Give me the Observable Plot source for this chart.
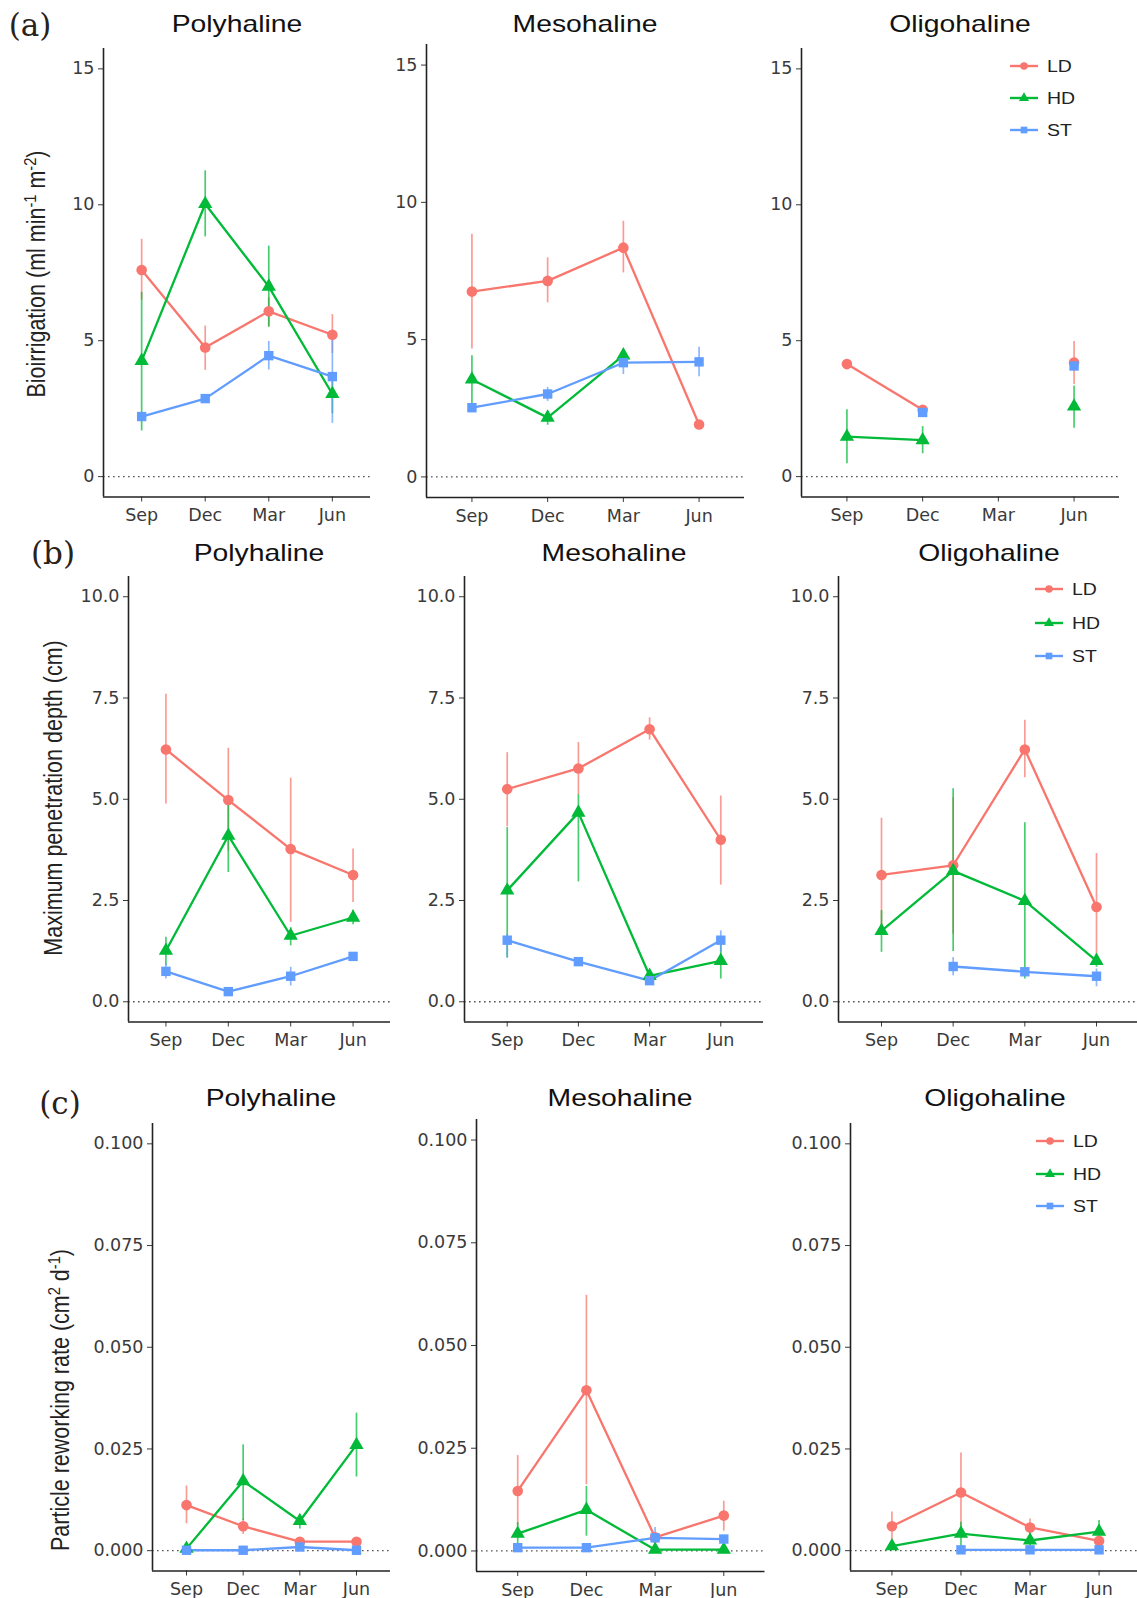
<!DOCTYPE html>
<html><head><meta charset="utf-8">
<script src="https://cdn.jsdelivr.net/npm/d3@7"></script>
<script src="https://cdn.jsdelivr.net/npm/@observablehq/plot@0.6"></script>
<style>
body{margin:0;background:#fff;}
#fig{position:relative;width:1137px;height:1598px;overflow:hidden;background:#fff;font-family:"Liberation Sans",Arial,sans-serif;}
.t{position:absolute;white-space:nowrap;line-height:1;}
.t sup{font-size:68%;vertical-align:0.55em;line-height:0;}
svg.panel{position:absolute;}
</style></head><body><div id="fig"></div>
<script>
// ---------- categories ----------
const months = ["Sep", "Dec", "Mar", "Jun"];
const treatments = ["LD", "HD", "ST"];
const sites = ["Polyhaline", "Mesohaline", "Oligohaline"];
const panelLetters = ["(a)", "(b)", "(c)"];
const colors = ["#F8766D", "#00BA38", "#619CFF"];
const symbols = ["circle", "triangle", "square"];

// ---------- (a) Bioirrigation, [site][month] ----------
const bioLD   = [[7.6, 4.75, 6.08, 5.22], [6.75, 7.14, 8.35, 1.91], [4.14, 2.46, null, 4.2]];
const bioLDlo = [[6.49, 3.91, 5.5, 4.53], [4.66, 6.34, 7.43, null], [null, null, null, 3.39]];
const bioLDhi = [[8.73, 5.54, 6.58, 5.96], [8.84, 7.98, 9.31, null], [null, null, null, 4.97]];
const bioHD   = [[4.26, 10.03, 6.99, 3.04], [3.55, 2.16, 4.43, null], [1.47, 1.34, null, 2.58]];
const bioHDlo = [[1.68, 8.82, 5.5, 2.31], [2.66, 1.88, 4.26, null], [0.47, 0.84, null, 1.78]];
const bioHDhi = [[6.78, 11.25, 8.48, 3.75], [4.41, 2.38, 4.6, null], [2.46, 1.84, null, 3.33]];
const bioST   = [[2.21, 2.87, 4.45, 3.68], [2.52, 3.02, 4.16, 4.19], [null, 2.36, null, 4.07]];
const bioSTlo = [[2.1, 2.77, 3.92, 1.96], [2.42, 2.75, 3.73, 3.65], [null, null, null, null]];
const bioSThi = [[2.32, 2.97, 4.97, 5.38], [2.62, 3.26, 4.53, 4.72], [null, null, null, null]];

// ---------- (b) Maximum penetration depth (cm) ----------
const depLD   = [[6.23, 4.98, 3.77, 3.13], [5.25, 5.76, 6.73, 4.0], [3.13, 3.37, 6.23, 2.34]];
const depLDlo = [[4.88, 3.72, 1.96, 2.45], [4.32, 5.1, 6.46, 2.88], [1.71, 1.67, 5.53, 1.01]];
const depLDhi = [[7.59, 6.26, 5.52, 3.77], [6.15, 6.4, 7.01, 5.08], [4.53, 5.04, 6.95, 3.66]];
const depHD   = [[1.26, 4.1, 1.63, 2.08], [2.75, 4.67, 0.64, 1.01], [1.75, 3.23, 2.49, 1.01]];
const depHDlo = [[0.89, 3.19, 1.38, 1.9], [1.08, 2.96, 0.58, 0.56], [1.22, 1.24, 0.56, 0.85]];
const depHDhi = [[1.59, 5.04, 1.83, 2.26], [4.3, 5.11, 0.7, 1.46], [2.25, 5.26, 4.42, 1.1]];
const depST   = [[0.75, 0.25, 0.63, 1.12], [1.52, 0.99, 0.52, 1.52], [null, 0.87, 0.74, 0.63]];
const depSTlo = [[0.56, 0.2, 0.39, 1.07], [1.08, 0.91, 0.44, 1.22], [null, 0.64, 0.69, 0.37]];
const depSThi = [[0.93, 0.3, 0.85, 1.17], [1.67, 1.07, 0.6, 1.75], [null, 1.09, 0.79, 0.81]];

// ---------- (c) Particle reworking rate (cm2 d-1) ----------
const rwLD   = [[0.0112, 0.0060, 0.0022, 0.0022], [0.0146, 0.0391, 0.0033, 0.0086], [0.0060, 0.0143, 0.0057, 0.0024]];
const rwLDlo = [[0.0066, 0.0040, 0.0019, 0.0019], [0.0061, 0.0161, 0.0028, 0.0048], [0.0007, 0.0045, 0.0032, 0.0021]];
const rwLDhi = [[0.0159, 0.0078, 0.0025, 0.0025], [0.0232, 0.0622, 0.0038, 0.0121], [0.0095, 0.0240, 0.0078, 0.0027]];
const rwHD   = [[0.0005, 0.0171, 0.0073, 0.0260], [0.0042, 0.0100, 0.0003, 0.0003], [0.0011, 0.0042, 0.0025, 0.0047]];
const rwHDlo = [[0.0003, 0.0074, 0.0053, 0.0181], [0.0007, 0.0036, 0.0002, 0.0002], [0.0007, 0.0007, 0.0003, 0.0024]];
const rwHDhi = [[0.0007, 0.0260, 0.0087, 0.0338], [0.0069, 0.0157, 0.0004, 0.0004], [0.0015, 0.0070, 0.0049, 0.0074]];
const rwST   = [[0.0001, 0.0001, 0.0009, 0.0001], [0.0008, 0.0008, 0.0032, 0.0029], [null, 0.0002, 0.0002, 0.0002]];
const rwSTlo = [[null, null, null, null], [0.0006, 0.0006, 0.0007, 0.0026], [null, null, null, null]];
const rwSThi = [[null, null, null, null], [0.0010, 0.0010, 0.0057, 0.0032], [null, null, null, null]];

// ---------- y-axis limits and ticks ----------
const bioLimits = [0, 15], bioTicks = [0, 5, 10, 15];
const depLimits = [0, 10], depTicks = [0, 2.5, 5, 7.5, 10];
const rwLimits = [0, 0.1], rwTicks = [0, 0.025, 0.05, 0.075, 0.1];

const variables = [
  {mean: [bioLD, bioHD, bioST], lo: [bioLDlo, bioHDlo, bioSTlo], hi: [bioLDhi, bioHDhi, bioSThi],
   limits: bioLimits, ticks: bioTicks, fmt: d3.format("d"),
   label: "Bioirrigation (ml min<sup>-1</sup> m<sup>-2</sup>)"},
  {mean: [depLD, depHD, depST], lo: [depLDlo, depHDlo, depSTlo], hi: [depLDhi, depHDhi, depSThi],
   limits: depLimits, ticks: depTicks, fmt: d3.format(".1f"),
   label: "Maximum penetration depth (cm)"},
  {mean: [rwLD, rwHD, rwST], lo: [rwLDlo, rwHDlo, rwSTlo], hi: [rwLDhi, rwHDhi, rwSThi],
   limits: rwLimits, ticks: rwTicks, fmt: d3.format(".3f"),
   label: "Particle reworking rate (cm<sup>2</sup> d<sup>-1</sup>)"}
];

// ---------- layout (page pixels) ----------
const frames = [
  [{x0:103, x1:370, yt:48, yb:496.5}, {x0:426, x1:744, yt:43.6, yb:496.6}, {x0:801, x1:1119, yt:48, yb:496.5}],
  [{x0:128, x1:390, yt:576, yb:1021.5}, {x0:464, x1:763, yt:576, yb:1021.5}, {x0:838, x1:1139, yt:576, yb:1021.5}],
  [{x0:152, x1:390, yt:1123, yb:1570.5}, {x0:476, x1:764.5, yt:1118.5, yb:1570.5}, {x0:849.5, x1:1139.5, yt:1123, yb:1570.5}]
];
const titleY = [24, 553, 1098];
const letterPos = [{x:30, y:25}, {x:53, y:553}, {x:60, y:1103}];
const ylabPos = [{x:38, y:274}, {x:55, y:798}, {x:62, y:1400}];
const legendPos = [{x:1010, y:66, dy:32}, {x:1035, y:589, dy:33.5}, {x:1036, y:1141, dy:32.5}];

const fig = document.getElementById("fig");
const ML = 70, MR = 12, MT = 6, MB = 38;

function addText(html, x, y, css) {
  const d = document.createElement("div");
  d.className = "t";
  d.innerHTML = html;
  d.style.left = x + "px";
  d.style.top = y + "px";
  Object.assign(d.style, css);
  fig.appendChild(d);
  return d;
}

variables.forEach((v, r) => {
  const lim = v.limits, pad = (lim[1] - lim[0]) * 0.05;
  const domain = [lim[0] - pad, lim[1] + pad];
  sites.forEach((site, s) => {
    const f = frames[r][s];
    const rows = [];
    treatments.forEach((t, ti) => {
      months.forEach((m, mi) => {
        rows.push({m: mi, t, mean: v.mean[ti][s][mi], lo: v.lo[ti][s][mi], hi: v.hi[ti][s][mi]});
      });
    });
    const W = f.x1 - f.x0 + ML + MR, H = f.yb - f.yt + MT + MB;
    const svg = Plot.plot({
      width: W, height: H,
      marginLeft: ML, marginRight: MR, marginTop: MT, marginBottom: MB,
      style: {background: "transparent", overflow: "visible", fontFamily: "'DejaVu Sans', sans-serif", fontSize: "17.5px", color: "#3a3a3a", maxWidth: "none"},
      x: {domain: [-0.6, 3.6]},
      y: {domain},
      color: {domain: treatments, range: colors},
      symbol: {domain: treatments, range: symbols},
      marks: [
        Plot.ruleY([0], {stroke: "#555", strokeDasharray: "1.6,3.4", strokeWidth: 1.3}),
        Plot.ruleX(rows.filter(d => d.lo != null && d.mean != null), {x: "m", y1: "lo", y2: "hi", stroke: "t", strokeWidth: 1.7, strokeOpacity: 0.72}),
        Plot.line(rows, {x: "m", y: "mean", z: "t", stroke: "t", strokeWidth: 2.3}),
        Plot.dot(rows.filter(d => d.mean != null), {x: "m", y: "mean", symbol: "t", fill: "t", r: 5.3, stroke: "none"}),
        Plot.axisY({ticks: v.ticks, tickFormat: v.fmt, tickSize: 5, tickPadding: 4, label: null, fontSize: 17.5}),
        Plot.axisX({ticks: [0, 1, 2, 3], tickFormat: i => months[i], tickSize: 5, tickPadding: 7, label: null, fontSize: 17.5}),
        Plot.ruleX([-0.6], {stroke: "#222", strokeWidth: 1.6}),
        Plot.ruleY([domain[0]], {stroke: "#222", strokeWidth: 1.6})
      ]
    });
    svg.classList.add("panel");
    svg.style.left = (f.x0 - ML) + "px";
    svg.style.top = (f.yt - MT) + "px";
    fig.appendChild(svg);

    // facet title
    addText(site, (f.x0 + f.x1) / 2, titleY[r], {fontSize: "24px", color: "#111", transform: "translate(-50%,-50%) scaleX(1.18)"});
  });

  // panel letter
  addText(panelLetters[r], letterPos[r].x, letterPos[r].y, {fontFamily: "'DejaVu Serif', serif", fontSize: "31px", color: "#2a2119", transform: "translate(-50%,-50%)"});
  // y-axis title
  addText(v.label, ylabPos[r].x, ylabPos[r].y, {fontSize: "21.5px", color: "#222", transform: "translate(-50%,-50%) scaleX(1.18) rotate(-90deg)"});

  // legend
  const L = legendPos[r];
  treatments.forEach((t, ti) => {
    const y = L.y + ti * L.dy;
    const g = d3.create("svg").attr("width", 30).attr("height", 14)
      .style("position", "absolute").style("left", L.x + "px").style("top", (y - 7) + "px");
    g.append("line").attr("x1", 0).attr("x2", 28).attr("y1", 7).attr("y2", 7).attr("stroke", colors[ti]).attr("stroke-width", 2.4);
    const symType = [d3.symbolCircle, d3.symbolTriangle, d3.symbolSquare][ti];
    g.append("path").attr("d", d3.symbol(symType, Math.PI * 14)()).attr("transform", "translate(14,7)").attr("fill", colors[ti]);
    fig.appendChild(g.node());
    addText(t, L.x + 37, y, {fontSize: "16.5px", color: "#222", transform: "translateY(-50%) scaleX(1.18)", transformOrigin: "0 50%"});
  });
});
</script></body></html>
